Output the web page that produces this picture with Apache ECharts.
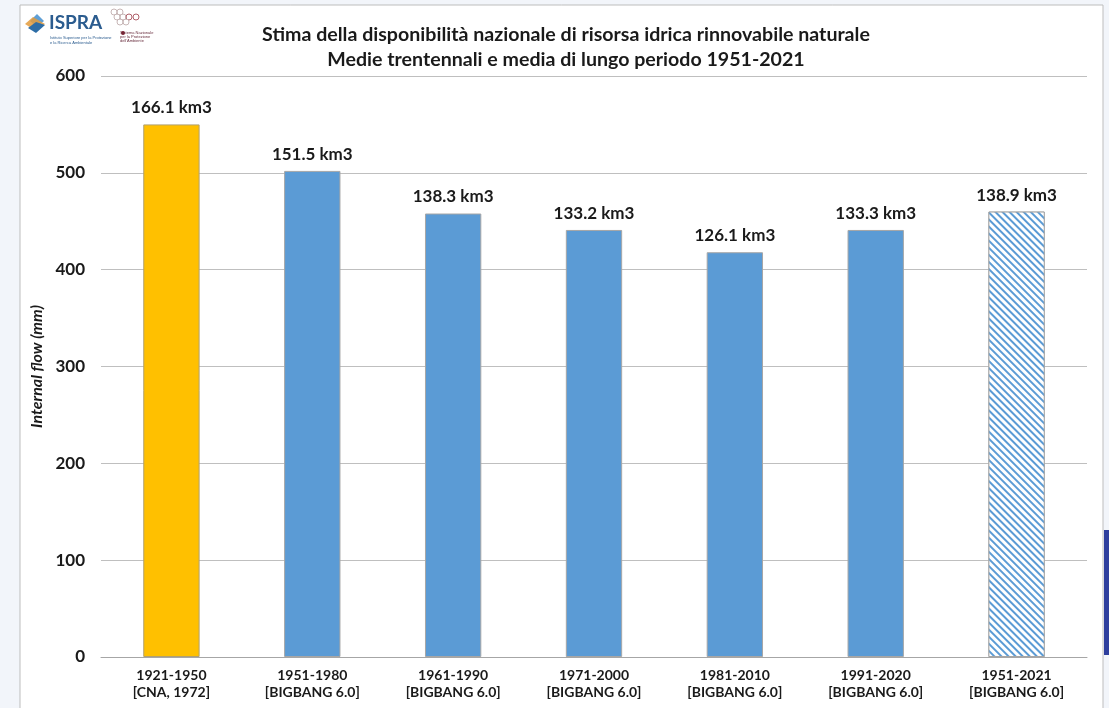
<!DOCTYPE html>
<html lang="it">
<head>
<meta charset="UTF-8">
<title>Disponibilità risorsa idrica</title>
<script src="https://cdn.jsdelivr.net/npm/echarts@6/dist/echarts.min.js"></script>
<style>
  html, body { margin: 0; padding: 0; background: #f2f5fa; }
  #chart { width: 1109px; height: 708px; }
</style>
</head>
<body>
<div id="chart"></div>
<script>
// periodi (due righe per etichetta)
var periods = ['1921-1950', '1951-1980', '1961-1990', '1971-2000', '1981-2010', '1991-2020', '1951-2021'];
var sources = ['[CNA, 1972]', '[BIGBANG 6.0]', '[BIGBANG 6.0]', '[BIGBANG 6.0]', '[BIGBANG 6.0]', '[BIGBANG 6.0]', '[BIGBANG 6.0]'];
// deflusso interno (mm) e volume (km3)
var flowMm = [550, 502, 458, 441, 418, 441, 460];
var volumeKm3 = ['166.1', '151.5', '138.3', '133.2', '126.1', '133.3', '138.9'];
var yTicks = [0, 100, 200, 300, 400, 500, 600];

var FONT = 'Lato, "Open Sans", sans-serif';
var BLUE = '#5b9bd5';

var chart = echarts.init(document.getElementById('chart'));

var cats = periods.map(function (p, i) { return p + '\n' + sources[i]; });

var barData = flowMm.map(function (v, i) {
    var item = { value: v };
    if (i === 0) {
        item.itemStyle = { color: '#ffc000', borderColor: '#b0a070' };
    } else if (i === flowMm.length - 1) {
        // ultima barra tratteggiata
        item.itemStyle = {
            color: '#ffffff',
            borderColor: '#a6a6a6',
            decal: {
                symbol: 'rect',
                color: BLUE,
                backgroundColor: '#ffffff',
                dashArrayX: [1, 0],
                dashArrayY: [2, 3],
                symbolSize: 1,
                rotation: Math.PI / 4
            }
        };
    }
    return item;
});

var option = {
    backgroundColor: '#f2f5fa',
    animation: false,
    graphic: [
        // pannello bianco
        { type: 'rect', z: -10, shape: { x: 20, y: 5, width: 1083, height: 710 },
          style: { fill: '#ffffff', stroke: '#bdbdbd', lineWidth: 1 } },
        // striscia blu a destra
        { type: 'rect', z: -10, shape: { x: 1104, y: 530, width: 5, height: 125 },
          style: { fill: '#2e3f9e' } },
        // logo ISPRA
        { type: 'polygon', shape: { points: [[30, 21], [37, 14], [44, 21], [37, 27]] },
          style: { fill: '#5f9fd6' } },
        { type: 'polygon', shape: { points: [[25, 24], [33, 17], [45, 24], [36, 31]] },
          style: { fill: '#e39b3c', opacity: 0.85 } },
        { type: 'polygon', shape: { points: [[28, 28], [36, 22], [45, 25], [36, 33]] },
          style: { fill: '#2d6da6' } },
        { type: 'text', style: { x: 49, y: 13, text: 'ISPRA', fill: '#2b5c8f',
          font: 'bold 19px ' + FONT } },
        { type: 'text', style: { x: 50, y: 35, text: 'Istituto Superiore per la Protezione\ne la Ricerca Ambientale',
          fill: '#2b5c8f', font: '4px sans-serif', lineHeight: 5 } },
        // logo SNPA
        { type: 'group', children: [
            { type: 'circle', shape: { cx: 114, cy: 12, r: 3 }, style: { fill: 'none', stroke: '#c7b6b6' } },
            { type: 'circle', shape: { cx: 120, cy: 12, r: 3 }, style: { fill: 'none', stroke: '#c7b6b6' } },
            { type: 'circle', shape: { cx: 117, cy: 17, r: 3 }, style: { fill: 'none', stroke: '#c7b6b6' } },
            { type: 'circle', shape: { cx: 123, cy: 17, r: 3 }, style: { fill: 'none', stroke: '#c7b6b6' } },
            { type: 'circle', shape: { cx: 129, cy: 17, r: 3 }, style: { fill: 'none', stroke: '#b0606a' } },
            { type: 'circle', shape: { cx: 120, cy: 22, r: 3 }, style: { fill: 'none', stroke: '#c7b6b6' } },
            { type: 'circle', shape: { cx: 126, cy: 22, r: 3 }, style: { fill: 'none', stroke: '#c7b6b6' } },
            { type: 'circle', shape: { cx: 136, cy: 17, r: 3 }, style: { fill: 'none', stroke: '#b0606a' } },
            { type: 'circle', shape: { cx: 123, cy: 33, r: 2 }, style: { fill: '#7a2030' } },
            { type: 'text', style: { x: 120, y: 31, text: 'Sistema Nazionale\nper la Protezione\ndell\'Ambiente',
              fill: '#6a3040', font: '4px sans-serif', lineHeight: 4 } }
        ] }
    ],
    title: {
        text: 'Stima della disponibilità nazionale di risorsa idrica rinnovabile naturale\nMedie trentennali e media di lungo periodo 1951-2021',
        left: 561,
        top: 17,
        textAlign: 'center',
        textStyle: { fontFamily: FONT, fontWeight: 'bold', fontSize: 19.6, color: '#1a1a1a', lineHeight: 25 }
    },
    grid: { left: 101, right: 22, top: 76, bottom: 51 },
    xAxis: {
        type: 'category',
        data: cats,
        axisTick: { show: false },
        axisLine: { lineStyle: { color: '#a6a6a6', width: 1 } },
        axisLabel: { fontFamily: FONT, fontWeight: 'bold', fontSize: 14, color: '#1a1a1a',
                     lineHeight: 17, margin: 10, interval: 0 }
    },
    yAxis: {
        type: 'value',
        min: yTicks[0],
        max: yTicks[yTicks.length - 1],
        interval: 100,
        name: 'Internal flow (mm)',
        nameLocation: 'middle',
        nameGap: 51,
        nameTextStyle: { fontFamily: FONT, fontWeight: 'bold', fontStyle: 'italic', fontSize: 16, color: '#1a1a1a' },
        axisLine: { show: false },
        axisTick: { show: false },
        axisLabel: { fontFamily: FONT, fontWeight: 'bold', fontSize: 17, color: '#1a1a1a', margin: 16 },
        splitLine: { lineStyle: { color: '#bfbfbf', width: 1 } }
    },
    series: [{
        type: 'bar',
        data: barData,
        barWidth: '40%',
        itemStyle: { color: BLUE, borderColor: '#a6a6a6', borderWidth: 1 },
        label: {
            show: true,
            position: 'top',
            distance: 8,
            fontFamily: FONT,
            fontWeight: 'bold',
            fontSize: 17,
            color: '#1a1a1a',
            formatter: function (p) { return volumeKm3[p.dataIndex] + ' km3'; }
        }
    }]
};

chart.setOption(option);
</script>
</body>
</html>
